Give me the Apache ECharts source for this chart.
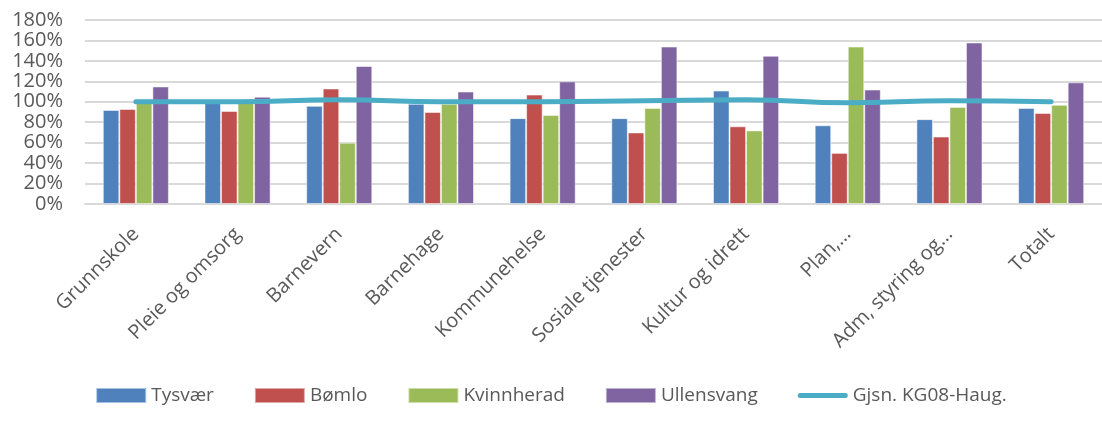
<!DOCTYPE html>
<html>
<head>
<meta charset="utf-8">
<script src="https://cdn.jsdelivr.net/npm/echarts@6/dist/echarts.min.js"></script>
<style>
  html, body { margin: 0; padding: 0; background: #fff; }
  #chart { width: 1102px; height: 428px; }
</style>
</head>
<body>
<div id="chart"></div>
<script>
const categories = ['Grunnskole', 'Pleie og omsorg', 'Barnevern', 'Barnehage', 'Kommunehelse',
    'Sosiale tjenester', 'Kultur og idrett', 'Plan,…', 'Adm, styring og…', 'Totalt'];
const tysvaer = [92, 99, 96, 98, 84, 84, 111, 77, 83, 94];
const bomlo = [93, 91, 113, 90, 107, 70, 76, 50, 66, 89];
const kvinnherad = [99, 99, 60, 98, 87, 94, 72, 154, 95, 97];
const ullensvang = [115, 105, 135, 110, 120, 154, 145, 112, 158, 119];
const snitt = [100, 100, 102, 100, 100, 101, 102, 99, 101, 100];
const yTicks = [0, 20, 40, 60, 80, 100, 120, 140, 160, 180];

const chart = echarts.init(document.getElementById('chart'));
const font = '"Open Sans", "DejaVu Sans", sans-serif';

function bar(name, data, color) {
    return {
        name: name,
        type: 'bar',
        data: data,
        barGap: '0%',
        barCategoryGap: '35%',
        itemStyle: {color: color, borderColor: 'rgba(255,255,255,0.5)', borderWidth: 1},
    };
}

chart.setOption({
    animation: false,
    grid: {left: 85, right: 0, top: 20, bottom: 224},
    legend: {
        bottom: 18,
        left: 'center',
        itemWidth: 50,
        itemHeight: 15,
        itemGap: 40,
        textStyle: {fontFamily: font, fontSize: 19, color: '#595959'},
        data: [
            {name: 'Tysvær', icon: 'rect'},
            {name: 'Bømlo', icon: 'rect'},
            {name: 'Kvinnherad', icon: 'rect'},
            {name: 'Ullensvang', icon: 'rect'},
            {name: 'Gjsn. KG08-Haug.', icon: 'path://M2.5,0 L47.5,0 A2.5,2.5 0 0 1 47.5,5 L2.5,5 A2.5,2.5 0 0 1 2.5,0 Z', itemStyle: {color: '#4bacc6'}},
        ],
    },
    xAxis: {
        type: 'category',
        data: categories,
        axisLine: {lineStyle: {color: '#d9d9d9', width: 2}},
        axisTick: {show: false},
        axisLabel: {
            rotate: 45,
            interval: 0,
            margin: 27,
            fontFamily: font,
            fontSize: 20,
            color: '#595959',
        },
    },
    yAxis: {
        type: 'value',
        min: yTicks[0],
        max: yTicks[yTicks.length - 1],
        interval: 20,
        axisLine: {show: false},
        axisTick: {show: false},
        splitLine: {lineStyle: {color: '#d9d9d9', width: 2}},
        axisLabel: {
            margin: 22,
            fontFamily: font,
            fontSize: 20,
            color: '#595959',
            formatter: '{value}%',
        },
    },
    series: [
        bar('Tysvær', tysvaer, '#4f81bd'),
        bar('Bømlo', bomlo, '#c0504d'),
        bar('Kvinnherad', kvinnherad, '#9bbb59'),
        bar('Ullensvang', ullensvang, '#8064a2'),
        {
            name: 'Gjsn. KG08-Haug.',
            type: 'line',
            data: snitt,
            smooth: true,
            symbol: 'none',
            lineStyle: {color: '#4bacc6', width: 5, cap: 'round'},
            itemStyle: {color: '#4bacc6'},
        },
    ],
});
</script>
</body>
</html>
